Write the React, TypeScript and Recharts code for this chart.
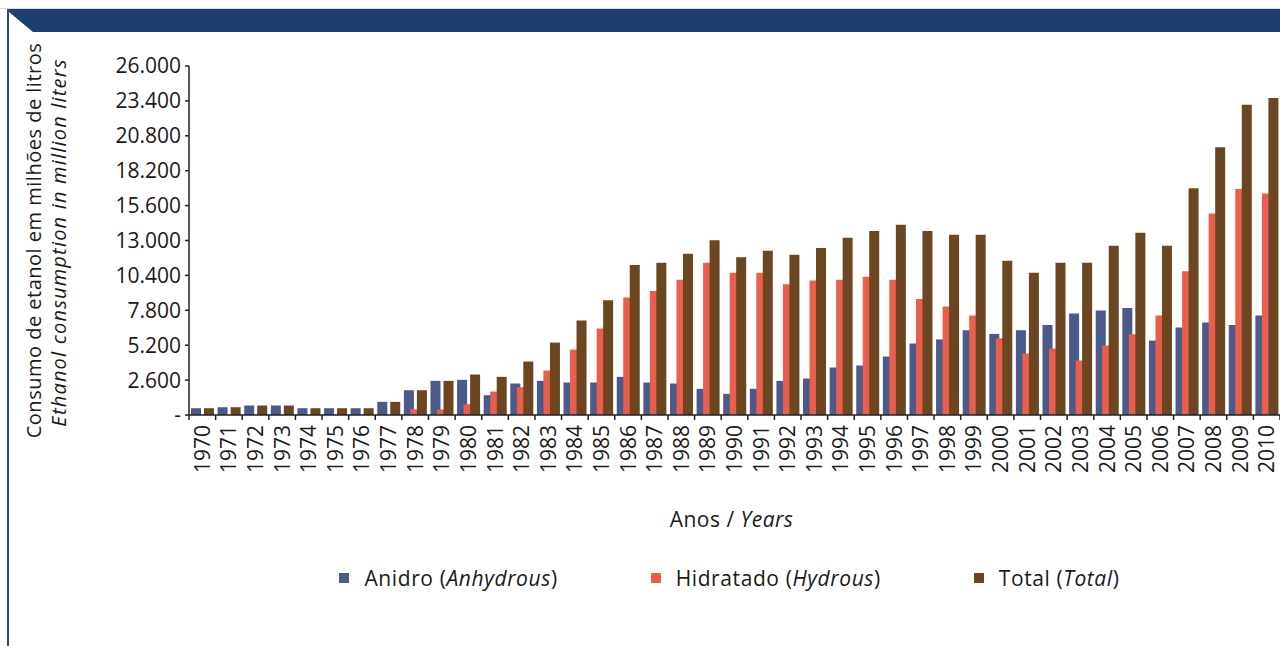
import React from 'react';
import { BarChart, Bar, XAxis, YAxis, Legend } from 'recharts';

const years = [
  '1970','1971','1972','1973','1974','1975','1976','1977','1978','1979',
  '1980','1981','1982','1983','1984','1985','1986','1987','1988','1989',
  '1990','1991','1992','1993','1994','1995','1996','1997','1998','1999',
  '2000','2001','2002','2003','2004','2005','2006','2007','2008','2009','2010',
];

const anidro = [
  506, 580, 707, 707, 506, 506, 506, 980, 1846, 2545,
  2620, 1474, 2344, 2545, 2419, 2419, 2843, 2419, 2344, 1950,
  1578, 1950, 2545, 2717, 3535, 3684, 4354, 5322, 5630, 6312,
  6043, 6312, 6710, 7554, 7777, 7975, 5545, 6510, 6885, 6710, 7405,
];

const hidratado = [
  0, 0, 0, 0, 0, 0, 0, 0, 409, 410,
  804, 1749, 2069, 3312, 4875, 6438, 8745, 9244, 10085, 11351,
  10606, 10606, 9736, 10011, 10085, 10308, 10085, 8649, 8076, 7405,
  5713, 4577, 4950, 4057, 5173, 6015, 7405, 10718, 15012, 16842, 16507,
];

const total = [
  506, 580, 707, 707, 506, 506, 506, 980, 1846, 2545,
  3014, 2843, 3982, 5396, 7048, 8544, 11179, 11351, 12021, 13010,
  11745, 12244, 11946, 12445, 13211, 13706, 14179, 13706, 13433, 13433,
  11500, 10606, 11351, 11351, 12617, 13582, 12617, 16897, 19947, 23111, 23608,
];

const yTicks = [0, 2600, 5200, 7800, 10400, 13000, 15600, 18200, 20800, 23400, 26000];

const series = [
  { key: 'anidro', pt: 'Anidro', en: 'Anhydrous', color: '#4a5a8a' },
  { key: 'hidratado', pt: 'Hidratado', en: 'Hydrous', color: '#e95f4b' },
  { key: 'total', pt: 'Total', en: 'Total', color: '#6b4620' },
];

const data = years.map((y, i) => ({
  year: y,
  anidro: anidro[i],
  hidratado: hidratado[i],
  total: total[i],
}));

const FONT = "'Open Sans', 'Noto Sans', sans-serif";
const TEXT = '#1a1a1a';

const fmtY = (v: number) => {
  if (v === 0) return '-';
  return String(v).replace(/\B(?=(\d{3})+(?!\d))/g, '.');
};

const XTick = (props: any) => {
  const { x, y, payload, width, visibleTicksCount, index } = props;
  const band = width / (visibleTicksCount || years.length);
  const half = band / 2;
  const axisY = y - 10;
  const tx = x + 7.5;
  return (
    <g>
      <line x1={x - half} x2={x - half} y1={axisY} y2={axisY + 5} stroke="#222" strokeWidth={1.5} />
      {index === visibleTicksCount - 1 && (
        <line x1={x + half} x2={x + half} y1={axisY} y2={axisY + 5} stroke="#222" strokeWidth={1.5} />
      )}
      <text
        x={tx}
        y={y}
        transform={`rotate(-90, ${tx}, ${y})`}
        textAnchor="end"
        fontSize={21}
        fill={TEXT}
        fontFamily={FONT}
      >
        {payload.value}
      </text>
    </g>
  );
};

const YLabel = (props: any) => {
  const vb = props.viewBox || {};
  const cy = (vb.y ?? 66) + (vb.height ?? 349) / 2;
  return (
    <g>
      <text
        x={41}
        y={cy}
        transform={`rotate(-90, 41, ${cy})`}
        textAnchor="middle"
        fontSize={20}
        letterSpacing={0.5}
        fill={TEXT}
        fontFamily={FONT}
      >
        Consumo de etanol em milhões de litros
      </text>
      <text
        x={66}
        y={cy + 2}
        transform={`rotate(-90, 66, ${cy + 2})`}
        textAnchor="middle"
        fontSize={20}
        letterSpacing={1.2}
        fill={TEXT}
        fontFamily={FONT}
        fontStyle="italic"
      >
        Ethanol consumption in million liters
      </text>
    </g>
  );
};

const XLabel = (props: any) => {
  const vb = props.viewBox || {};
  const cx = (vb.x ?? 189) + (vb.width ?? 1091) / 2 - 3;
  const y = (vb.y ?? 415) + 112;
  return (
    <text x={cx} y={y} textAnchor="middle" fontSize={21} letterSpacing={0.5} fill={TEXT} fontFamily={FONT}>
      Anos / <tspan fontStyle="italic">Years</tspan>
    </text>
  );
};

const LegendContent = () => (
  <div
    style={{
      display: 'flex',
      justifyContent: 'center',
      alignItems: 'center',
      gap: 93,
      fontFamily: FONT,
      fontSize: 21,
      letterSpacing: 0.6,
      color: TEXT,
      whiteSpace: 'nowrap',
    }}
  >
    {series.map((s) => (
      <div key={s.key} style={{ display: 'flex', alignItems: 'center' }}>
        <span style={{ display: 'inline-block', width: 10, height: 10, background: s.color, marginRight: 15 }} />
        <span>
          {s.pt} (<i>{s.en}</i>)
        </span>
      </div>
    ))}
  </div>
);

export default function App() {
  return (
    <div style={{ position: 'absolute', left: 0, top: 0, width: 1280, height: 646, overflow: 'hidden', background: '#fff', fontFamily: FONT }}>
      <svg width={1280} height={646} style={{ position: 'absolute', left: 0, top: 0 }}>
        <line x1={0} x2={1280} y1={8.5} y2={8.5} stroke="#d8dde6" strokeWidth={1} />
        <polygon points="7,9 1280,9 1280,32 33,32 9,12 7,12" fill="#1c3e70" />
        <rect x={7} y={9} width={2} height={637} fill="#2b4c82" />
      </svg>
      <div style={{ position: 'absolute', left: 0, top: 0 }}>
        <BarChart
          width={1280}
          height={646}
          data={data}
          margin={{ top: 66, right: 0, left: 0, bottom: 0 }}
          barSize={10}
          barGap={-3.5}
          style={{ fontFamily: FONT }}
        >
          <YAxis
            width={189}
            domain={[0, 26000]}
            ticks={yTicks}
            interval={0}
            tickFormatter={fmtY}
            tickSize={4}
            tickMargin={4}
            axisLine={{ stroke: '#222', strokeWidth: 1.5 }}
            tickLine={{ stroke: '#222', strokeWidth: 1.5 }}
            tick={{ fontSize: 21, fill: TEXT, fontFamily: FONT }}
            label={{ content: YLabel }}
          />
          <XAxis
            dataKey="year"
            height={231}
            interval={0}
            tickSize={5}
            tickMargin={5}
            tickLine={false}
            axisLine={{ stroke: '#222', strokeWidth: 1.5 }}
            tick={<XTick />}
            label={{ content: XLabel }}
          />
          <Legend
            layout="horizontal"
            verticalAlign="middle"
            align="center"
            wrapperStyle={{ position: 'absolute', top: 564, left: 184, width: 1091 }}
            content={LegendContent}
          />
          {series.map((s) => (
            <Bar key={s.key} dataKey={s.key} fill={s.color} isAnimationActive={false} />
          ))}
        </BarChart>
      </div>
    </div>
  );
}
